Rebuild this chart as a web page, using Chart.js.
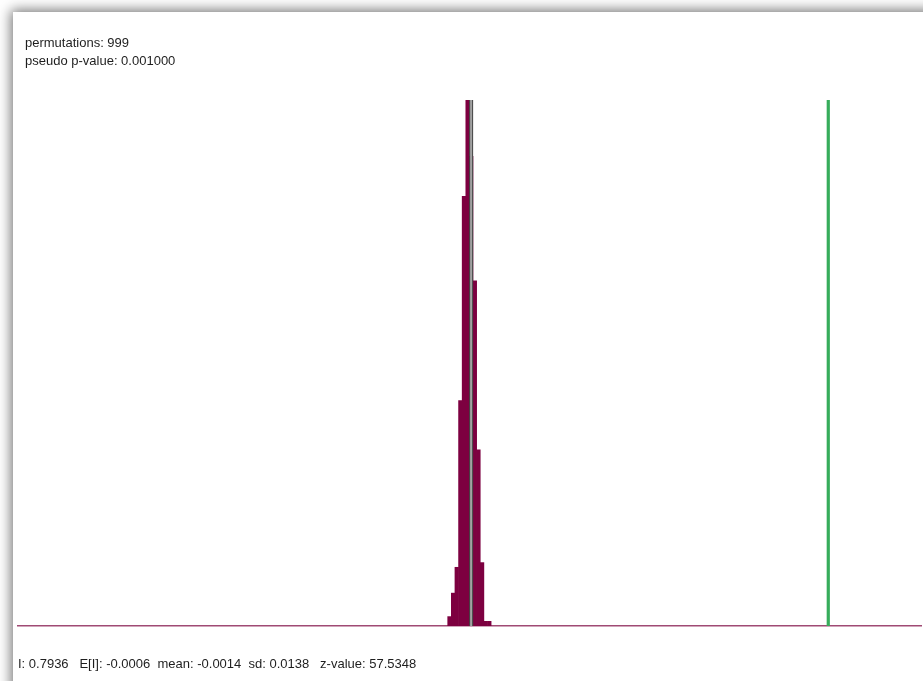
<!DOCTYPE html>
<html>
<head>
<meta charset="utf-8">
<script src="https://cdn.jsdelivr.net/npm/chart.js@4.4.1/dist/chart.umd.min.js"></script>
<style>
    html, body { margin: 0; padding: 0; background: #fff; overflow: hidden; }
    body { width: 923px; height: 681px; position: relative; }
    #panel {
        position: absolute; left: 13px; top: 12px; width: 960px; height: 700px;
        background: #fff;
        box-shadow: 0 0 12px 2px rgba(0, 0, 0, 0.55);
    }
    #plot { position: absolute; left: 13px; top: 12px; width: 910px; height: 669px; }
    .note {
        position: absolute; font-family: "Liberation Sans", Arial, sans-serif;
        font-size: 13px; line-height: 18px; color: #1e1e1e; white-space: pre;
    }
</style>
</head>
<body>
<div id="panel"></div>
<div id="plot"><canvas id="perm-chart"></canvas></div>
<div class="note" style="left:25px; top:34px;">permutations: 999<br>pseudo p-value: 0.001000</div>
<div class="note" style="left:18px; top:655px;">I: 0.7936   E[I]: -0.0006  mean: -0.0014  sd: 0.0138   z-value: 57.5348</div>

<script>
    // reference distribution of Moran's I under 999 permutations
    const binCenters = [-0.0495, -0.0414, -0.0334, -0.0253, -0.0173, -0.0092, -0.0012, 0.0069, 0.0149, 0.0230, 0.0310, 0.0391];
    const binCounts = [4, 14, 25, 96, 183, 224, 200, 147, 75, 27, 2, 2];

    const observedI = 0.7936;
    const permMean = -0.0014;
    const xRange = [-1.01, 1.0];

    const maxCount = Math.max(...binCounts);
    const vline = (x) => [{ x: x, y: 0 }, { x: x, y: maxCount }];

    new Chart(document.getElementById('perm-chart').getContext('2d'), {
        type: 'bar',
        data: {
            datasets: [
                {
                    type: 'line',
                    data: vline(permMean),
                    borderColor: '#a2a2a2',
                    borderWidth: 2,
                    pointRadius: 0,
                    order: 0,
                },
                {
                    type: 'line',
                    data: vline(permMean),
                    borderColor: '#444',
                    borderWidth: 4,
                    pointRadius: 0,
                    order: 1,
                },
                {
                    type: 'line',
                    data: vline(observedI),
                    borderColor: '#37ad5b',
                    borderWidth: 3.2,
                    pointRadius: 0,
                    order: 2,
                },
                {
                    type: 'bar',
                    data: binCenters.map((c, i) => ({ x: c, y: binCounts[i] })),
                    backgroundColor: '#7d0040',
                    borderWidth: 0,
                    barPercentage: 1,
                    categoryPercentage: 1,
                    order: 3,
                }
            ]
        },
        options: {
            responsive: true,
            maintainAspectRatio: false,
            animation: false,
            layout: {
                padding: { left: 5, right: 2, top: 88, bottom: 47 }
            },
            plugins: {
                legend: { display: false },
                title: { display: false },
                tooltip: { enabled: false }
            },
            scales: {
                x: {
                    type: 'linear',
                    min: xRange[0],
                    max: xRange[1],
                    offset: false,
                    grid: { display: false },
                    ticks: { display: false },
                    border: { display: true, color: '#a04a74', width: 1.6 }
                },
                y: {
                    display: false,
                    min: 0,
                    max: maxCount,
                    grid: { display: false }
                }
            }
        }
    });
</script>
</body>
</html>
